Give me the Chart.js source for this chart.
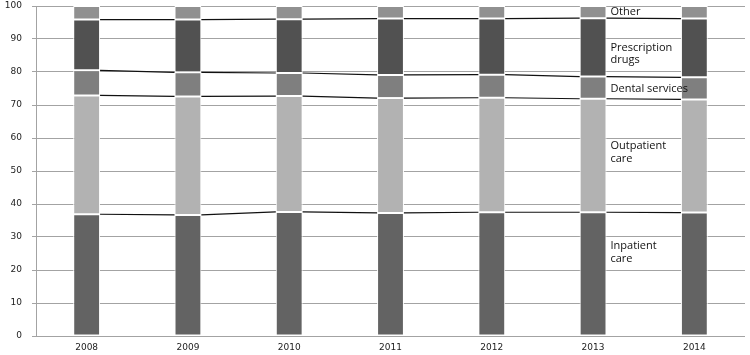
<!DOCTYPE html>
<html>
<head>
<meta charset="utf-8">
<script src="https://cdn.jsdelivr.net/npm/chart.js@4"></script>
<style>
  html, body { margin: 0; padding: 0; background: #fff; }
  #wrap { width: 750px; height: 355px; }
</style>
</head>
<body>
<div id="wrap"><canvas id="chart" width="750" height="355"></canvas></div>
<script>
// Health spending shares by year (percent of total)
const years = ['2008', '2009', '2010', '2011', '2012', '2013', '2014'];
const inpatient    = [36.9, 36.7, 37.6, 37.3, 37.5, 37.5, 37.4];
const outpatient   = [36.0, 35.9, 35.1, 34.8, 34.7, 34.4, 34.3];
const dental       = [7.6, 7.3, 7.0, 7.0, 7.0, 6.7, 6.7];
const prescription = [15.4, 16.0, 16.3, 17.1, 17.0, 17.7, 17.8];
const other        = [4.1, 4.1, 4.0, 3.8, 3.8, 3.7, 3.8];
const yTicks = [0, 10, 20, 30, 40, 50, 60, 70, 80, 90, 100];

// Labels written beside the 2013 bar, with the value each one is centred on
const seriesLabels = [
  { lines: ['Other'], at: 98.2 },
  { lines: ['Prescription', 'drugs'], at: 85.5 },
  { lines: ['Dental services'], at: 75.0 },
  { lines: ['Outpatient', 'care'], at: 55.6 },
  { lines: ['Inpatient', 'care'], at: 25.4 }
];

const GRID = '#a3a3a3';

// Excel-style series lines joining the top of each segment between bars
const seriesLinesPlugin = {
  id: 'seriesLines',
  afterDatasetsDraw(chart) {
    const ctx = chart.ctx;
    ctx.save();
    ctx.strokeStyle = '#111';
    ctx.lineWidth = 1.2;
    for (let d = 0; d < chart.data.datasets.length - 1; d++) {
      const bars = chart.getDatasetMeta(d).data;
      for (let i = 0; i < bars.length - 1; i++) {
        const a = bars[i], b = bars[i + 1];
        ctx.beginPath();
        ctx.moveTo(a.x + a.width / 2, a.y);
        ctx.lineTo(b.x - b.width / 2, b.y);
        ctx.stroke();
      }
    }
    ctx.restore();
  }
};

const labelsPlugin = {
  id: 'segLabels',
  afterDraw(chart) {
    const ctx = chart.ctx;
    const bar = chart.getDatasetMeta(0).data[5];
    const x = bar.x + bar.width / 2 + 4;
    const yScale = chart.scales.y;
    ctx.save();
    ctx.fillStyle = '#111';
    ctx.font = '11px "Open Sans"';
    ctx.textBaseline = 'middle';
    ctx.textAlign = 'left';
    const lh = 12.5;
    seriesLabels.forEach(l => {
      const yc = yScale.getPixelForValue(l.at);
      const y0 = yc - (l.lines.length - 1) * lh / 2;
      l.lines.forEach((t, k) => ctx.fillText(t, x, y0 + k * lh));
    });
    ctx.restore();
  }
};

function ds(label, values, color) {
  return {
    label: label,
    data: values,
    backgroundColor: color,
    borderColor: '#ffffff',
    borderWidth: 1,
    borderSkipped: false,
    categoryPercentage: 1.0,
    barPercentage: 0.265
  };
}

new Chart(document.getElementById('chart'), {
  type: 'bar',
  data: {
    labels: years,
    datasets: [
      ds('Inpatient care', inpatient, '#636363'),
      ds('Outpatient care', outpatient, '#b2b2b2'),
      ds('Dental services', dental, '#7f7f7f'),
      ds('Prescription drugs', prescription, '#515151'),
      ds('Other', other, '#909090')
    ]
  },
  options: {
    responsive: false,
    animation: false,
    devicePixelRatio: 1,
    layout: { padding: { top: 6, right: 5, left: 0, bottom: 0 } },
    plugins: { legend: { display: false }, tooltip: { enabled: false } },
    scales: {
      x: {
        stacked: true,
        grid: { display: false, drawTicks: false },
        border: { display: false },
        ticks: { color: '#222', font: { family: 'DejaVu Sans', size: 9 }, padding: 6, maxRotation: 0 },
        afterFit(s) { s.height = 19; }
      },
      y: {
        stacked: true,
        min: 0,
        max: 100,
        afterBuildTicks(s) { s.ticks = yTicks.map(v => ({ value: v })); },
        grid: { color: GRID, lineWidth: 1, tickLength: 4 },
        border: { color: GRID, width: 1 },
        ticks: { color: '#222', font: { family: 'DejaVu Sans', size: 9 }, padding: 10 },
        afterFit(s) { s.width = 36; s.paddingTop = 0; s.paddingBottom = 0; }
      }
    }
  },
  plugins: [seriesLinesPlugin, labelsPlugin]
});
</script>
</body>
</html>
